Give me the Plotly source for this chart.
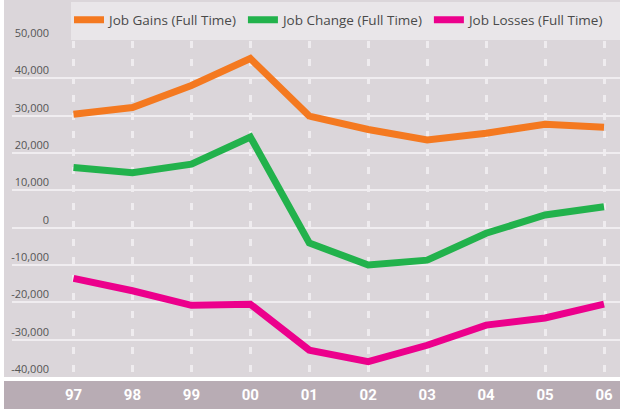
import plotly.graph_objects as go

years = ["97", "98", "99", "00", "01", "02", "03", "04", "05", "06"]
job_gains = [30400, 32200, 38100, 45300, 29900, 26300, 23500, 25300, 27700, 26900]
job_change = [16100, 14700, 17000, 24300, -4100, -10000, -8700, -1500, 3400, 5600]
job_losses = [-13600, -16900, -20800, -20500, -32800, -35900, -31500, -26100, -24200, -20500]

y_tickvals = [50000, 40000, 30000, 20000, 10000, 0, -10000, -20000, -30000, -40000]
y_ticktext = ["50,000", "40,000", "30,000", "20,000", "10,000", "0",
              "-10,000", "-20,000", "-30,000", "-40,000"]

series = [
    ("Job Gains (Full Time)", job_gains, "#f47920"),
    ("Job Change (Full Time)", job_change, "#22b24c"),
    ("Job Losses (Full Time)", job_losses, "#ec008c"),
]

xpos = list(range(len(years)))

fig = go.Figure()
for name, vals, color in series:
    fig.add_trace(go.Scatter(
        x=xpos, y=vals, name=name, mode="lines",
        line=dict(color=color, width=7),
    ))

W, H = 625, 409
L, R, T, B = 12, 5, 41, 32
pw, ph = W - L - R, H - T - B


def fx(px):
    return (px - L) / pw


def fy(py):
    return (H - B - py) / ph


shapes = [
    dict(type="rect", xref="paper", yref="paper", layer="below",
         x0=fx(4), x1=fx(620), y0=fy(377), y1=fy(0),
         fillcolor="#dbd6da", line=dict(width=0)),
    dict(type="rect", xref="paper", yref="paper", layer="below",
         x0=fx(71), x1=fx(620), y0=fy(40), y1=fy(2),
         fillcolor="#e9e6e9", line=dict(width=0)),
    dict(type="rect", xref="paper", yref="paper", layer="below",
         x0=fx(4), x1=fx(620), y0=fy(409), y1=fy(381),
         fillcolor="#b8acb4", line=dict(width=0)),
]

x0_px, x9_px = 73.5, 604.0
step = (x9_px - x0_px) / 9
xr = [(L - x0_px) / step, (L + pw - x0_px) / step]

fig.update_layout(
    width=W, height=H,
    margin=dict(l=L, r=R, t=T, b=B, pad=0, autoexpand=False),
    paper_bgcolor="white",
    plot_bgcolor="rgba(0,0,0,0)",
    shapes=shapes,
    showlegend=True,
    legend=dict(
        orientation="h", x=fx(69), y=fy(20), xanchor="left", yanchor="middle",
        bgcolor="rgba(0,0,0,0)", font=dict(family="Open Sans", size=13.5, color="#4a4a4a"),
        itemwidth=30,
    ),
    xaxis=dict(
        range=xr, tickvals=xpos, ticktext=years, automargin=False,
        showgrid=True, gridcolor="rgba(242,240,242,0.85)", gridwidth=2.5,
        griddash="7px,11px",
        zeroline=False, showline=False,
        ticks="outside", ticklen=4, tickcolor="rgba(0,0,0,0)",
        tickfont=dict(family="Roboto", size=15, color="white", weight="bold"),
    ),
    yaxis=dict(
        range=[-40000, 50000], tickvals=y_tickvals, ticktext=y_ticktext,
        anchor="free", position=fx(49), side="left", automargin=False,
        showgrid=True, gridcolor="#f0edf0", gridwidth=2,
        zeroline=False, showline=False, ticks="",
        ticklabelshift=-8,
        tickfont=dict(family="Open Sans", size=11, color="#555555"),
    ),
)

fig.write_html("out.html", config={"displayModeBar": False},
               post_script="document.body.style.margin='0';")
